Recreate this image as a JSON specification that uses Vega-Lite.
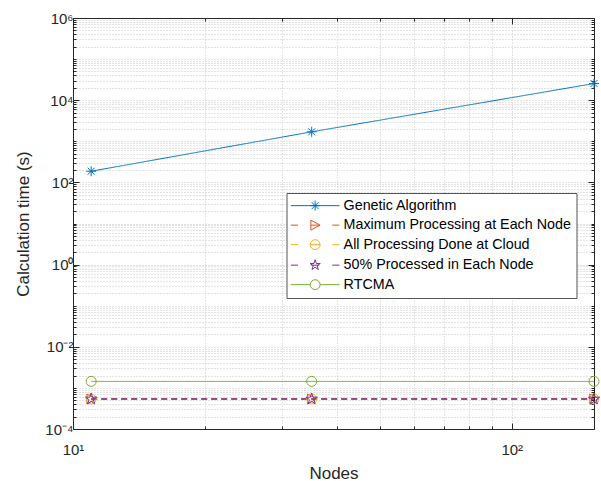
{
  "$schema": "https://vega.github.io/schema/vega-lite/v6.json",
  "width": 521,
  "height": 411,
  "autosize": "none",
  "padding": {"left": 73, "top": 18, "right": 7, "bottom": 52},
  "config": {
    "font": "Liberation Sans",
    "view": {"stroke": null},
    "axis": {
      "domainColor": "#262626",
      "domainWidth": 1,
      "tickColor": "#262626",
      "tickWidth": 1,
      "labelColor": "#262626",
      "labelFontSize": 15,
      "titleColor": "#262626",
      "titleFontSize": 17,
      "titleFontWeight": "normal",
      "gridColor": "#c6c6c6",
      "gridDash": [1, 2],
      "gridWidth": 1
    }
  },
  "data": {
    "values": [
      {"series": "Genetic Algorithm", "nodes": 11, "time": 187},
      {"series": "Genetic Algorithm", "nodes": 35, "time": 1700},
      {"series": "Genetic Algorithm", "nodes": 154, "time": 25450},
      {"series": "Maximum Processing at Each Node", "nodes": 11, "time": 0.000537},
      {"series": "Maximum Processing at Each Node", "nodes": 35, "time": 0.000537},
      {"series": "Maximum Processing at Each Node", "nodes": 154, "time": 0.000537},
      {"series": "All Processing Done at Cloud", "nodes": 11, "time": 0.000537},
      {"series": "All Processing Done at Cloud", "nodes": 35, "time": 0.000537},
      {"series": "All Processing Done at Cloud", "nodes": 154, "time": 0.000537},
      {"series": "50% Processed in Each Node", "nodes": 11, "time": 0.000537},
      {"series": "50% Processed in Each Node", "nodes": 35, "time": 0.000537},
      {"series": "50% Processed in Each Node", "nodes": 154, "time": 0.000537},
      {"series": "RTCMA", "nodes": 11, "time": 0.00144},
      {"series": "RTCMA", "nodes": 35, "time": 0.00144},
      {"series": "RTCMA", "nodes": 154, "time": 0.00144}
    ]
  },
  "layer": [
    {
      "mark": {"type": "line", "strokeWidth": 1},
      "encoding": {
        "x": {
          "field": "nodes", "type": "quantitative",
          "scale": {"type": "log", "domain": [10, 154], "nice": false},
          "axis": {
            "orient": "bottom",
            "title": "Nodes",
            "values": [10, 20, 30, 40, 50, 60, 70, 80, 90, 100],
            "labelExpr": "datum.value == 10 ? '10¹' : datum.value == 100 ? '10²' : ''",
            "tickSize": {"condition": {"test": "datum.value == 10 || datum.value == 100", "value": -6}, "value": -3},
            "grid": true,
            "labelPadding": 19,
            "titlePadding": 5,
            "labelFlush": false,
            "labelOverlap": false
          }
        },
        "y": {
          "field": "time", "type": "quantitative",
          "scale": {"type": "log", "domain": [0.0001, 1000000], "nice": false},
          "axis": {
            "orient": "left",
            "title": "Calculation time (s)",
            "values": [0.0001,0.0002,0.0003,0.0004,0.0005,0.0006,0.0007,0.0008,0.0009,0.001,0.002,0.003,0.004,0.005,0.006,0.007,0.008,0.009,0.01,0.02,0.03,0.04,0.05,0.06,0.07,0.08,0.09,0.1,0.2,0.3,0.4,0.5,0.6,0.7,0.8,0.9,1,2,3,4,5,6,7,8,9,10,20,30,40,50,60,70,80,90,100,200,300,400,500,600,700,800,900,1000,2000,3000,4000,5000,6000,7000,8000,9000,10000,20000,30000,40000,50000,60000,70000,80000,90000,100000,200000,300000,400000,500000,600000,700000,800000,900000,1000000],
            "labelExpr": "datum.value == 0.0001 ? '10⁻⁴' : datum.value == 0.01 ? '10⁻²' : datum.value == 1 ? '10⁰' : datum.value == 100 ? '10²' : datum.value == 10000 ? '10⁴' : datum.value == 1000000 ? '10⁶' : ''",
            "tickSize": {"condition": {"test": "datum.value == 0.0001 || datum.value == 0.01 || datum.value == 1 || datum.value == 100 || datum.value == 10000 || datum.value == 1000000", "value": -6}, "value": -3},
            "grid": true,
            "labelPadding": 6,
            "titlePadding": 12,
            "labelFlush": false,
            "labelOverlap": false
          }
        },
        "stroke": {
          "field": "series", "type": "nominal",
          "scale": {
            "domain": ["Genetic Algorithm", "Maximum Processing at Each Node", "All Processing Done at Cloud", "50% Processed in Each Node", "RTCMA"],
            "range": ["#0072BD", "#D95319", "#EDB120", "#7E2F8E", "#77AC30"]
          },
          "legend": null
        },
        "strokeDash": {
          "field": "series", "type": "nominal",
          "scale": {
            "domain": ["Genetic Algorithm", "Maximum Processing at Each Node", "All Processing Done at Cloud", "50% Processed in Each Node", "RTCMA"],
            "range": [[1, 0], [6, 4], [6, 4], [6, 4], [1, 0]]
          },
          "legend": null
        }
      }
    },
    {
      "transform": [{"filter": "datum.series == '50% Processed in Each Node'"}],
      "mark": {"type": "line", "strokeWidth": 1, "strokeDash": [6, 4], "color": "#7E2F8E"},
      "encoding": {
        "x": {"field": "nodes", "type": "quantitative", "scale": {"type": "log", "domain": [10, 154], "nice": false}, "axis": null},
        "y": {"field": "time", "type": "quantitative", "scale": {"type": "log", "domain": [0.0001, 1000000], "nice": false}, "axis": null}
      }
    },
    {
      "mark": {"type": "point", "filled": false, "size": 100, "strokeWidth": 1, "opacity": 1},
      "encoding": {
        "x": {
          "field": "nodes", "type": "quantitative",
          "scale": {"type": "log", "domain": [10, 154], "nice": false},
          "axis": {
            "orient": "top",
            "title": null,
            "values": [10, 20, 30, 40, 50, 60, 70, 80, 90, 100],
            "labels": false,
            "grid": false,
            "tickSize": {"condition": {"test": "datum.value == 10 || datum.value == 100", "value": -6}, "value": -3}
          }
        },
        "y": {
          "field": "time", "type": "quantitative",
          "scale": {"type": "log", "domain": [0.0001, 1000000], "nice": false},
          "axis": {
            "orient": "right",
            "title": null,
            "values": [0.0001,0.0002,0.0003,0.0004,0.0005,0.0006,0.0007,0.0008,0.0009,0.001,0.002,0.003,0.004,0.005,0.006,0.007,0.008,0.009,0.01,0.02,0.03,0.04,0.05,0.06,0.07,0.08,0.09,0.1,0.2,0.3,0.4,0.5,0.6,0.7,0.8,0.9,1,2,3,4,5,6,7,8,9,10,20,30,40,50,60,70,80,90,100,200,300,400,500,600,700,800,900,1000,2000,3000,4000,5000,6000,7000,8000,9000,10000,20000,30000,40000,50000,60000,70000,80000,90000,100000,200000,300000,400000,500000,600000,700000,800000,900000,1000000],
            "labels": false,
            "grid": false,
            "tickSize": {"condition": {"test": "datum.value == 0.0001 || datum.value == 0.01 || datum.value == 1 || datum.value == 100 || datum.value == 10000 || datum.value == 1000000", "value": -6}, "value": -3}
          }
        },
        "stroke": {
          "field": "series", "type": "nominal",
          "scale": {
            "domain": ["Genetic Algorithm", "Maximum Processing at Each Node", "All Processing Done at Cloud", "50% Processed in Each Node", "RTCMA"],
            "range": ["#0072BD", "#D95319", "#EDB120", "#7E2F8E", "#77AC30"]
          },
          "legend": null
        },
        "shape": {
          "field": "series", "type": "nominal",
          "scale": {
            "domain": ["Genetic Algorithm", "Maximum Processing at Each Node", "All Processing Done at Cloud", "50% Processed in Each Node", "RTCMA"],
            "range": [
              "M0,-1V1M-1,0H1M-0.7,-0.7L0.7,0.7M-0.7,0.7L0.7,-0.7",
              "M-0.85,-1L1,0L-0.85,1Z",
              "M1,0A1,1,0,1,1,-1,0A1,1,0,1,1,1,0Z",
              "M0,-1.2L0.269,-0.371L1.141,-0.371L0.436,0.142L0.705,0.971L0,0.458L-0.705,0.971L-0.436,0.142L-1.141,-0.371L-0.269,-0.371Z",
              "M1,0A1,1,0,1,1,-1,0A1,1,0,1,1,1,0Z"
            ]
          },
          "legend": null
        }
      }
    },
    {
      "mark": {"type": "point", "filled": false, "size": 81, "strokeWidth": 1, "opacity": 0},
      "encoding": {
        "x": {"field": "nodes", "type": "quantitative", "scale": {"type": "log", "domain": [10, 154], "nice": false}, "axis": null},
        "y": {"field": "time", "type": "quantitative", "scale": {"type": "log", "domain": [0.0001, 1000000], "nice": false}, "axis": null},
        "stroke": {
          "field": "series", "type": "nominal",
          "scale": {
            "domain": ["Genetic Algorithm", "Maximum Processing at Each Node", "All Processing Done at Cloud", "50% Processed in Each Node", "RTCMA"],
            "range": ["#0072BD", "#D95319", "#EDB120", "#7E2F8E", "#77AC30"]
          },
          "legend": {
            "title": null, "orient": "none", "legendX": 213.5, "legendY": 175,
            "padding": 5.5, "symbolOffset": 16, "labelOffset": 21.3, "rowPadding": 4.5,
            "labelFontSize": 14.3, "labelColor": "#000000", "labelLimit": 400,
            "strokeColor": "#555555", "fillColor": "#ffffff", "symbolOpacity": 1, "symbolStrokeWidth": 1, "symbolSize": 81
          }
        },
        "shape": {
          "field": "series", "type": "nominal",
          "scale": {
            "domain": ["Genetic Algorithm", "Maximum Processing at Each Node", "All Processing Done at Cloud", "50% Processed in Each Node", "RTCMA"],
            "range": [
              "M-5.4,0H5.4M0,-1.1V1.1M-1.1,0H1.1M-0.78,-0.78L0.78,0.78M-0.78,0.78L0.78,-0.78",
              "M-5.4,0H-3.8M-0.9,0H0.9M3.8,0H5.4M-0.95,-1.1L1.1,0L-0.95,1.1Z",
              "M-5.4,0H-3.8M-1.1,0H1.1M3.8,0H5.4M1.1,0A1.1,1.1,0,1,1,-1.1,0A1.1,1.1,0,1,1,1.1,0Z",
              "M-5.4,0H-3.8M-0.9,0H0.9M3.8,0H5.4M0,-1.2L0.269,-0.371L1.141,-0.371L0.436,0.142L0.705,0.971L0,0.458L-0.705,0.971L-0.436,0.142L-1.141,-0.371L-0.269,-0.371Z",
              "M-5.4,0H-1.1M1.1,0H5.4M1.1,0A1.1,1.1,0,1,1,-1.1,0A1.1,1.1,0,1,1,1.1,0Z"
            ]
          },
          "legend": {
            "title": null, "orient": "none", "legendX": 213.5, "legendY": 175,
            "padding": 5.5, "symbolOffset": 16, "labelOffset": 21.3, "rowPadding": 4.5,
            "labelFontSize": 14.3, "labelColor": "#000000", "labelLimit": 400,
            "strokeColor": "#555555", "fillColor": "#ffffff", "symbolOpacity": 1, "symbolStrokeWidth": 1, "symbolSize": 81
          }
        }
      }
    }
  ],
  "resolve": {
    "scale": {"stroke": "independent", "shape": "independent", "strokeDash": "independent"},
    "axis": {"x": "independent", "y": "independent"},
    "legend": {"stroke": "independent", "shape": "independent"}
  }
}
